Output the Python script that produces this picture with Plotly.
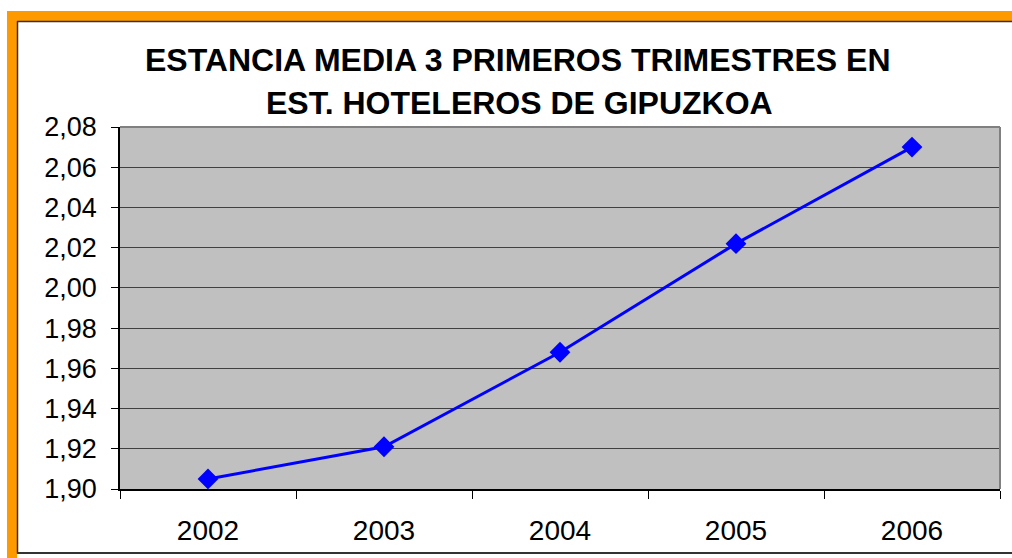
import plotly.graph_objects as go

years = ["2002", "2003", "2004", "2005", "2006"]
estancia = [1.905, 1.921, 1.968, 2.022, 2.070]
title_line1 = "ESTANCIA MEDIA 3 PRIMEROS TRIMESTRES EN"
title_line2 = "EST. HOTELEROS DE GIPUZKOA"

W, H = 1012, 558
L, R, T, B = 120, 12, 127, 66
PW, PH = W - L - R, H - T - B

def px(x):
    return (x - L) / PW

def py(y):
    return (H - B - y) / PH

fig = go.Figure()
fig.add_trace(go.Scatter(
    x=years, y=estancia, mode="lines+markers",
    line=dict(color="#0000FF", width=3),
    marker=dict(symbol="diamond", size=16, color="#0000FF"),
    showlegend=False,
))

font_family = "Liberation Sans, Arial, sans-serif"

shapes = [
    dict(type="rect", xref="paper", yref="paper", x0=px(7), x1=px(17), y0=py(10), y1=py(H + 5),
         fillcolor="#FF9900", line=dict(width=0), layer="above"),
    dict(type="rect", xref="paper", yref="paper", x0=px(7), x1=px(W + 5), y0=py(10), y1=py(20),
         fillcolor="#FF9900", line=dict(width=0), layer="above"),
    dict(type="line", xref="paper", yref="paper", x0=px(17.5), x1=px(17.5), y0=py(20), y1=py(557),
         line=dict(color="#333333", width=1.5), layer="above"),
    dict(type="line", xref="paper", yref="paper", x0=px(17), x1=px(W + 5), y0=py(20.5), y1=py(20.5),
         line=dict(color="#333333", width=1.5), layer="above"),
    dict(type="line", xref="paper", yref="paper", x0=px(17), x1=px(W + 5), y0=py(556.5), y1=py(556.5),
         line=dict(color="#333333", width=2), layer="above"),
    dict(type="line", xref="paper", yref="paper", x0=0, x1=1, y0=1, y1=1,
         line=dict(color="#808080", width=2), layer="above"),
    dict(type="line", xref="paper", yref="paper", x0=1, x1=1, y0=0, y1=1,
         line=dict(color="#808080", width=2), layer="above"),
]

annotations = [
    dict(text="<b>" + title_line1 + "</b>", xref="paper", yref="paper", x=px(518), y=py(59),
         xanchor="center", yanchor="middle", showarrow=False,
         font=dict(family=font_family, size=32, color="black")),
    dict(text="<b>" + title_line2 + "</b>", xref="paper", yref="paper", x=px(519), y=py(103),
         xanchor="center", yanchor="middle", showarrow=False,
         font=dict(family=font_family, size=32, color="black")),
]

fig.update_layout(
    width=W, height=H,
    margin=dict(l=L, r=R, t=T, b=B, pad=0),
    paper_bgcolor="white",
    plot_bgcolor="#C0C0C0",
    separators=",.",
    shapes=shapes,
    annotations=annotations,
    font=dict(family=font_family, size=28, color="black"),
)

fig.update_xaxes(
    type="category",
    range=[-0.5, len(years) - 0.5],
    tickson="boundaries",
    ticks="outside", ticklen=8, tickcolor="black", tickwidth=1,
    showline=True, linecolor="black", linewidth=1.5,
    showgrid=False, zeroline=False,
    tickfont=dict(family=font_family, size=28, color="black"),
    ticklabelstandoff=16,
)

fig.update_yaxes(
    range=[1.90, 2.08],
    dtick=0.02, tick0=1.90,
    tickformat=".2f",
    ticks="outside", ticklen=7, tickcolor="black", tickwidth=1,
    showline=True, linecolor="black", linewidth=1.5,
    showgrid=True, gridcolor="#404040", gridwidth=1,
    zeroline=False,
    tickfont=dict(family=font_family, size=27, color="black"),
    ticklabelstandoff=9,
)

fig.write_html(
    "out.html",
    config={"displayModeBar": False},
    post_script="document.body.style.margin='0px';document.body.style.overflow='hidden';",
)
